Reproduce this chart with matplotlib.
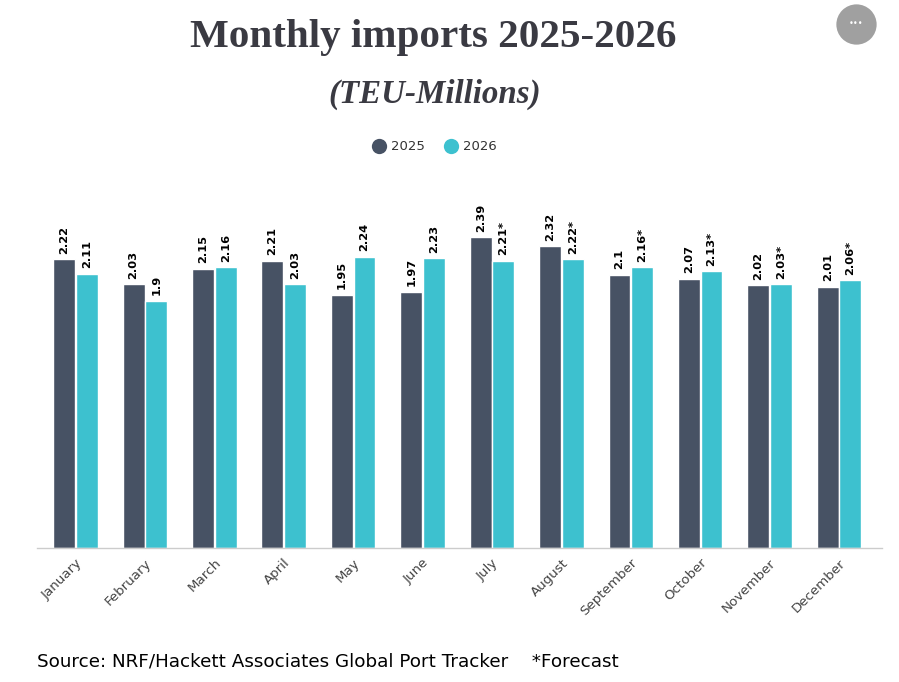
import matplotlib.pyplot as plt
from matplotlib.lines import Line2D
import numpy as np

# monthly imports, TEU millions (2026 from July on is a forecast)
months = ['January', 'February', 'March', 'April', 'May', 'June',
          'July', 'August', 'September', 'October', 'November', 'December']
imports_2025 = [2.22, 2.03, 2.15, 2.21, 1.95, 1.97, 2.39, 2.32, 2.10, 2.07, 2.02, 2.01]
imports_2026 = [2.11, 1.90, 2.16, 2.03, 2.24, 2.23, 2.21, 2.22, 2.16, 2.13, 2.03, 2.06]
forecast_2026 = [False] * 6 + [True] * 6

dark = '#475264'
cyan = '#3dc1cf'
text_col = '#333333'
sans = 'DejaVu Sans'
serif = 'Liberation Serif'

fig = plt.figure(figsize=(8.99, 6.82), dpi=100, facecolor='white')
ax = fig.add_axes([37 / 899, 1 - 548 / 682, 845 / 899, 338 / 682])

x = np.arange(len(months))
w = 0.315
off = 0.163
b1 = ax.bar(x - off, imports_2025, w, color=dark, edgecolor='white', linewidth=1.0)
b2 = ax.bar(x + off, imports_2026, w, color=cyan, edgecolor='white', linewidth=1.0)

# value labels, rotated
for rect, v in zip(b1, imports_2025):
    ax.annotate(f'{v:g}', (rect.get_x() + rect.get_width() / 2, v),
                xytext=(0, 4), textcoords='offset points', rotation=90,
                ha='center', va='bottom', fontsize=8.2, fontweight='bold',
                color='black', family=sans)
for rect, v, f in zip(b2, imports_2026, forecast_2026):
    ax.annotate(f'{v:g}' + ('*' if f else ''), (rect.get_x() + rect.get_width() / 2, v),
                xytext=(0, 4), textcoords='offset points', rotation=90,
                ha='center', va='bottom', fontsize=8.2, fontweight='bold',
                color='black', family=sans)

ax.set_xlim(-0.555, 11.62)
ax.set_ylim(0, 2.6)
ax.set_yticks([])
ax.set_xticks(x)
ax.set_xticklabels(months, rotation=45, ha='right', rotation_mode='anchor',
                   fontsize=9.6, color='#444444', family=sans)
ax.tick_params(axis='x', length=0, pad=6)
for s in ['top', 'right', 'left']:
    ax.spines[s].set_visible(False)
ax.spines['bottom'].set_color('#cccccc')
ax.spines['bottom'].set_linewidth(1.0)

# titles
fig.text(433 / 899, 1 - 38 / 682, 'Monthly imports 2025-2026', ha='center', va='center',
         fontsize=29.6, fontweight='bold', color='#3a3a42', family=serif)
fig.text(435 / 899, 1 - 94 / 682, '(TEU-Millions)', ha='center', va='center',
         fontsize=23.8, fontweight='bold', style='italic', color='#3a3a42', family=serif)

# legend
leg_y = 1 - 146 / 682
for cx, col, lab in [(379, dark, '2025'), (451, cyan, '2026')]:
    fig.add_artist(Line2D([cx / 899], [leg_y], transform=fig.transFigure, marker='o',
                          markersize=11, color=col, markeredgewidth=0))
    fig.text((cx + 12) / 899, leg_y, lab, ha='left', va='center', fontsize=9.5,
             color=text_col, family=sans)

# menu button
fig.add_artist(Line2D([856 / 899], [1 - 24 / 682], transform=fig.transFigure, marker='o',
                      markersize=29, color='#a0a0a0', markeredgewidth=0))
fig.text(856 / 899, 1 - 24 / 682, '•••', ha='center', va='center', fontsize=6,
         color='white', family=sans)

fig.text(37 / 899, 1 - 662 / 682, 'Source: NRF/Hackett Associates Global Port Tracker    *Forecast',
         ha='left', va='center', fontsize=13.2, color='black', family=sans)

fig.savefig('out.png', dpi=100, facecolor='white')
